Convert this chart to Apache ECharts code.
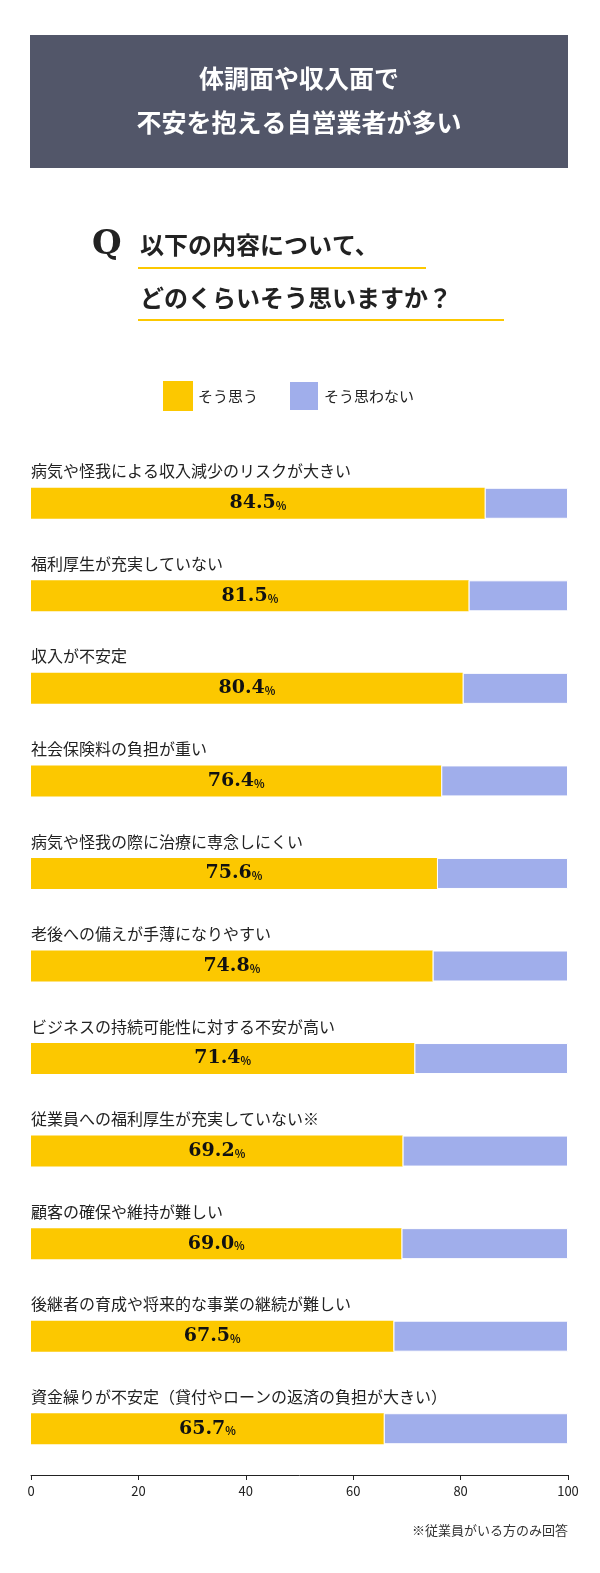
<!DOCTYPE html>
<html><head><meta charset="utf-8">
<script src="https://cdn.jsdelivr.net/npm/echarts@6/dist/echarts.min.js"></script>
<style>html,body{margin:0;padding:0;background:#fff}#c{width:600px;height:1573px}</style>
</head><body><div id="c"></div>
<script>
const categories = ["病気や怪我による収入減少のリスクが大きい","福利厚生が充実していない","収入が不安定","社会保険料の負担が重い","病気や怪我の際に治療に専念しにくい","老後への備えが手薄になりやすい","ビジネスの持続可能性に対する不安が高い","従業員への福利厚生が充実していない※","顧客の確保や維持が難しい","後継者の育成や将来的な事業の継続が難しい","資金繰りが不安定（貸付やローンの返済の負担が大きい）"];
const agree = [84.5,81.5,80.4,76.4,75.6,74.8,71.4,69.2,69.0,67.5,65.7];
const disagree = [15.5,18.5,19.6,23.6,24.4,25.2,28.6,30.8,31.0,32.5,34.3];
const xTicks = [0,20,40,60,80,100];
const F = "'Noto Sans CJK JP','Noto Sans',sans-serif";
const chart = echarts.init(document.getElementById('c'));
chart.setOption({
  animation:false,
  textStyle:{fontFamily:F},
  graphic:[
    {type:'rect',shape:{x:30,y:35,width:538,height:133},style:{fill:'#525669'}},
    {type:'text',style:{x:299,y:78,text:'体調面や収入面で',fill:'#fff',font:'bold 25px '+F,align:'center',verticalAlign:'middle'}},
    {type:'text',style:{x:299,y:122,text:'不安を抱える自営業者が多い',fill:'#fff',font:'bold 25px '+F,align:'center',verticalAlign:'middle'}},
    {type:'text',style:{x:92,y:245,text:'Q',fill:'#222',font:'bold 34px "DejaVu Serif",serif',verticalAlign:'middle'}},
    {type:'text',style:{x:140,y:245,text:'以下の内容について、',fill:'#222',font:'bold 24px '+F,verticalAlign:'middle'}},
    {type:'text',style:{x:140,y:298,text:'どのくらいそう思いますか？',fill:'#222',font:'bold 24px '+F,verticalAlign:'middle'}},
    {type:'rect',shape:{x:138,y:267,width:288,height:2},style:{fill:'#FCC800'}},
    {type:'rect',shape:{x:138,y:319,width:366,height:2},style:{fill:'#FCC800'}},
    {type:'text',style:{x:568,y:1530,text:'※従業員がいる方のみ回答',fill:'#333',font:'13px '+F,align:'right',verticalAlign:'middle'}}
  ],
  legend:{left:158,top:375,itemWidth:30,itemHeight:30,itemGap:30,icon:'rect',
    textStyle:{fontSize:15,color:'#222',fontFamily:F},data:['そう思う','そう思わない']},
  grid:{left:31,right:32,top:457,bottom:98},
  xAxis:{type:'value',min:0,max:100,interval:20,
    axisLine:{show:true,lineStyle:{color:'#222'}},axisTick:{show:true,length:5,lineStyle:{color:'#222'}},
    splitLine:{show:false},axisLabel:{color:'#222',fontSize:13,margin:10,formatter:v=>xTicks.includes(v)?String(v):''}},
  yAxis:{type:'category',inverse:true,data:categories,axisLine:{show:false},axisTick:{show:false},
    axisLabel:{inside:true,margin:0,align:'left',verticalAlign:'bottom',padding:[0,0,24,0],color:'#222',fontSize:16,fontFamily:F}},
  series:[
    {name:'そう思う',type:'bar',stack:'a',barWidth:31,data:agree,itemStyle:{color:'#FCC800'},
      label:{show:true,position:'inside',formatter:p=>'{n|'+p.value.toFixed(1)+'}{p|%}',
        rich:{n:{fontSize:19,fontWeight:'bold',color:'#111',fontFamily:'"DejaVu Serif",serif'},p:{fontSize:11,fontWeight:'bold',color:'#111',padding:[5,0,0,0]}}}},
    {name:'そう思わない',type:'bar',stack:'a',data:disagree,itemStyle:{color:'#A0AEEB',borderColor:'#fff',borderWidth:1}}
  ]
});
</script></body></html>
